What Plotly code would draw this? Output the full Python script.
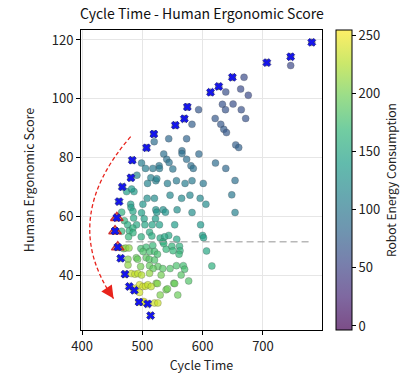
import plotly.graph_objects as go
from plotly.colors import sequential

# Design points: cycle time, ergonomic score and robot energy
cycle_time = [
    781, 746, 746, 706.5, 649.3, 668.6, 626.7, 613, 638.3, 663, 675.7, 632.7, 650.4,
    637.8, 664, 620.7, 671.3, 630, 635, 639.4, 654.8, 659.8, 621.2, 638.3, 653.7,
    648.2, 653.7,
    574.5, 593.2, 569.5, 554.6, 582.2, 518.9, 519.5, 543.6, 573.3, 506.8, 483.1,
    565.6, 565.6, 535.3, 593.7, 540.3, 573.3, 544.2, 498.5, 505.1, 517.2, 527.7,
    528.2, 580.5, 584.4, 550.4,
    480.9, 490.8, 513.9, 522.2, 523.8, 508.4, 541.5, 556.4, 570.7, 582.3, 600.9,
    466.6, 473.7, 485.9, 482, 507.8, 519.9, 545.8, 565, 578.8, 595.8,
    461.1, 480.4, 481, 500.7, 605.3, 522.2, 523.8, 534.3, 538.2, 557.5, 582.3,
    484.2, 498.5, 465.5, 485.3, 502.9, 521.6, 457.5, 470, 475.4, 490.3, 504, 516.1,
    528.2, 553.5, 596.5,
    454.5, 465.5, 478.2, 484, 511.8, 484.3, 498, 477, 515.6, 529.4, 543.6, 536.7,
    556.9, 599.8, 601.4, 533.9,
    459, 468.8, 472.2, 477.7, 497.4, 506.2, 517.2, 535.3, 539.3, 548.8, 550.7,
    561.5, 562.3, 606.4, 501, 511.8, 520,
    464, 476, 489.8, 492, 506.3, 511.2, 520, 524.9, 560.7,
    476, 497, 511.8, 525.6, 517.7, 533.7, 545.8, 556.4, 567.8, 570, 615.2,
    471, 481.5, 487.5, 492.5, 498.5, 511.8, 531, 564.2, 576.7, 522.8, 524.9, 552,
    553.5,
    478.2, 486.5, 488.6, 495.2, 500.8, 505.1, 509, 514.5, 495.2, 539.3, 541.5,
    529.4, 558.6,
    494.2, 508.6, 500.8, 502.4, 520, 525.6, 513.6,
]
ergo_score = [
    119.2, 114.3, 111.3, 112.3, 107.3, 107.3, 104.2, 102.2, 102.3, 103.3, 101.2, 98.1, 98.2,
    96.3, 96.3, 93.3, 93.3, 91.3, 89.6, 88.5, 84.3, 83.4, 78.1, 76.3, 72.2,
    67.3, 61.3,
    97.2, 96.3, 93.2, 91.0, 91.3, 88.0, 85.4, 86.4, 86.4, 83.3, 79.1,
    82.3, 81.4, 81.2, 81.2, 79.4, 79.4, 78.3, 78.1, 76.3, 76.3, 77.2,
    76.3, 77.2, 76.3, 76.1,
    73.1, 74.0, 73.1, 72.1, 72.8, 71.2, 71.2, 72.1, 71.2, 72.1, 71.2,
    70.0, 68.4, 68.4, 69.3, 66.1, 66.1, 67.2, 66.1, 67.2, 66.1,
    65.0, 64.1, 63.0, 64.1, 64.1, 62.2, 61.4, 62.2, 61.4, 62.2, 61.3,
    61.7, 61.2, 61.4, 59.4, 59.2, 59.2, 59.5, 58.5, 57.1, 57.1, 57.1, 57.1,
    57.1, 57.1, 57.1,
    55.0, 54.9, 55.1, 56.0, 54.6, 54.4, 53.0, 53.0, 53.3, 52.6, 53.5, 53.0,
    52.2, 53.5, 52.7, 51.3,
    49.5, 49.0, 49.2, 49.2, 49.0, 49.5, 50.1, 50.7, 48.8, 49.8, 48.3,
    49.8, 48.3, 48.2, 48.0, 48.0, 48.0,
    45.7, 45.4, 45.9, 45.4, 45.9, 45.4, 45.1, 47.1, 47.1,
    43.4, 42.9, 43.2, 42.9, 42.2, 42.2, 42.2, 43.2, 43.2, 42.0, 43.1,
    40.3, 40.5, 40.3, 40.5, 40.0, 40.6, 40.0, 40.0, 38.0, 37.2, 37.1, 37.2,
    37.1,
    36.1, 34.8, 35.5, 36.7, 36.1, 36.2, 36.7, 36.1, 34.1, 35.0, 35.3,
    33.2, 33.2,
    30.8, 30.2, 30.8, 31.0, 30.5, 30.5, 26.2,
]
energy = [
    48, 50, 55, 50, 52, 58, 53, 55, 60, 58, 56, 64, 60,
    66, 62, 70, 64, 70, 72, 70, 76, 78, 88, 84, 92,
    100, 110,
    60, 68, 62, 64, 74, 68, 88, 84, 80, 74, 84,
    88, 90, 92, 86, 94, 90, 96, 106, 108, 104, 100,
    102, 92, 94, 98,
    96, 116, 110, 112, 110, 114, 108, 104, 106, 102, 100,
    104, 140, 138, 136, 124, 122, 118, 120, 116, 118,
    120, 140, 142, 132, 122, 130, 132, 128, 130, 126, 124,
    148, 142, 160, 150, 144, 138, 160, 165, 156, 152, 148, 146,
    142, 138, 134,
    168, 168, 162, 160, 154, 162, 158, 168, 156, 152, 150, 150,
    148, 142, 144, 156,
    180, 192, 215, 210, 178, 174, 170, 164, 168, 166, 168,
    162, 164, 150, 182, 178, 176,
    200, 205, 196, 194, 188, 186, 182, 178, 170,
    210, 200, 192, 188, 192, 186, 184, 180, 176, 178, 160,
    225, 235, 232, 230, 226, 212, 200, 186, 184, 205, 206, 196,
    195,
    238, 236, 240, 240, 238, 236, 232, 230, 238, 200, 198,
    204, 196,
    242, 240, 244, 244, 236, 234, 246,
]

# Non-dominated designs
front_ct = [781, 746, 706.5, 649.3, 626.7, 613, 574.5, 569.5, 554.6, 518.9, 506.8,
            483.1, 480.9, 466.6, 461.1, 457.5, 454.5, 459, 464, 471, 478.2, 486.5,
            494.2, 508.6, 513.6]
front_score = [119.2, 114.3, 112.3, 107.3, 104.2, 102.2, 97.2, 93.2, 91.0, 88.0, 83.3,
               79.1, 73.1, 70.0, 65.0, 59.5, 55.0, 49.5, 45.7, 40.3, 36.1, 34.8,
               30.8, 30.2, 26.2]

# Highlighted designs
picked_ct = [457.5, 454.5, 459.0]
picked_score = [59.5, 55.0, 49.5]

# Acceptable ergonomic score threshold
threshold_score = 51.3
threshold_span = [472, 781]

# Curved trend arrow (quadratic curve: start, control, end)
arc_start = (480.5, 87.1)
arc_ctrl = (360.7, 59.0)
arc_end = (452.0, 32.0)

FONT = "Noto Sans CJK SC"


def with_alpha(hex_color, a):
    h = hex_color.lstrip("#")
    r, g, b = int(h[0:2], 16), int(h[2:4], 16), int(h[4:6], 16)
    return f"rgba({r},{g},{b},{a})"


viridis = sequential.Viridis
faded_viridis = [[i / (len(viridis) - 1), with_alpha(c, 0.7)] for i, c in enumerate(viridis)]

fig = go.Figure()

fig.add_trace(go.Scatter(
    x=cycle_time, y=ergo_score, mode="markers",
    marker=dict(
        size=7, color=energy, colorscale=faded_viridis, cmin=-3.5, cmax=255,
        line=dict(width=0.6, color="rgba(70,70,80,0.45)"),
        colorbar=dict(
            x=1.058, xanchor="left", xpad=0, ypad=0, y=0.5, yanchor="middle",
            len=1, lenmode="fraction", thickness=16,
            outlinewidth=1, outlinecolor="black",
            tickvals=[0, 50, 100, 150, 200, 250],
            ticks="outside", ticklen=4, tickcolor="black",
            tickfont=dict(family=FONT, size=13, color="#222"),
            title=dict(text="Robot Energy Consumption", side="right",
                       font=dict(family=FONT, size=12, color="#222")),
        ),
    ),
    showlegend=False, hoverinfo="skip",
))

fig.add_trace(go.Scatter(
    x=picked_ct, y=picked_score, mode="markers",
    marker=dict(symbol="triangle-up", size=11, color="rgba(230,80,70,0.55)",
                line=dict(color="rgba(200,20,20,0.85)", width=1.3)),
    showlegend=False, hoverinfo="skip",
))

fig.add_trace(go.Scatter(
    x=front_ct, y=front_score, mode="markers",
    marker=dict(symbol="x", size=7, color="#1414f0",
                line=dict(width=0.8, color="#20208a")),
    showlegend=False, hoverinfo="skip",
))

fig.add_trace(go.Scatter(
    x=threshold_span, y=[threshold_score, threshold_score], mode="lines",
    line=dict(color="rgba(160,160,160,0.75)", width=1.5, dash="7px,4px"),
    showlegend=False, hoverinfo="skip",
))

fig.add_shape(
    type="path", xref="x", yref="y",
    path=f"M {arc_start[0]},{arc_start[1]} Q {arc_ctrl[0]},{arc_ctrl[1]} {arc_end[0]},{arc_end[1]}",
    line=dict(color="#e8231c", width=1.3, dash="4px,2.5px"),
)
fig.add_annotation(
    x=arc_end[0], y=arc_end[1], xref="x", yref="y", text="",
    showarrow=True, arrowhead=2, arrowsize=1.8, arrowwidth=1.4,
    arrowcolor="#e8231c", ax=-6, ay=-9, standoff=0,
)

axis_common = dict(
    showgrid=True, gridcolor="#e6e6e6", gridwidth=1, zeroline=False,
    showline=True, linecolor="black", linewidth=1, mirror=True,
    ticks="outside", ticklen=4, tickcolor="black",
    tickfont=dict(family=FONT, size=13, color="#222"),
)

fig.update_layout(
    width=412, height=379,
    margin=dict(l=81, r=89, t=30, b=47),
    paper_bgcolor="white", plot_bgcolor="white",
    title=dict(text="Cycle Time - Human Ergonomic Score", x=0.49, xanchor="center",
               y=0.963, yanchor="middle",
               font=dict(family=FONT, size=14, color="#111")),
    xaxis=dict(range=[398, 798], tickvals=[400, 500, 600, 700],
               title=dict(text="Cycle Time", standoff=4,
                          font=dict(family=FONT, size=12.5, color="#222")),
               **axis_common),
    yaxis=dict(range=[21.3, 123.4], tickvals=[40, 60, 80, 100, 120],
               title=dict(text="Human Ergonomic Score", standoff=14,
                          font=dict(family=FONT, size=12.5, color="#222")),
               **axis_common),
)

fig.write_html("out.html")
